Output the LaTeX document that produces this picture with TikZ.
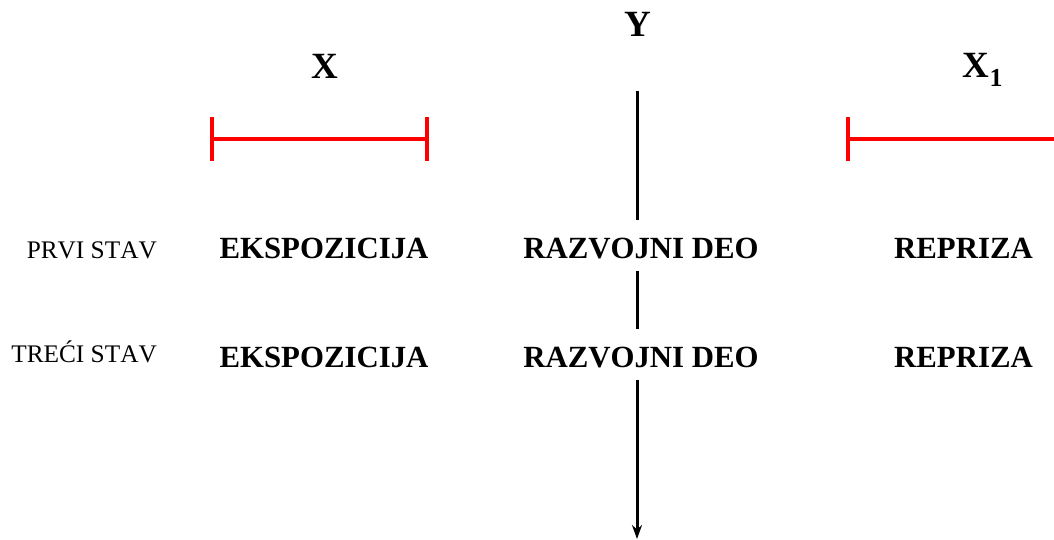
\documentclass[tikz,border=0pt]{standalone}
\usepackage{fontspec}
\setmainfont[Kerning=Off]{Liberation Serif}
\usetikzlibrary{arrows.meta}
\begin{document}
\begin{tikzpicture}[x=1pt,y=-1pt,
  head/.style={font=\fontsize{37}{40}\selectfont\bfseries, anchor=base, inner sep=0pt},
  part/.style={font=\fontsize{30.8}{34}\selectfont\bfseries, anchor=base, inner sep=0pt},
  mov/.style={font=\fontsize{25.3}{28}\selectfont, anchor=base east, inner sep=0pt},
  gap/.style={part, text height=25pt, text depth=0pt, inner ysep=13pt, inner xsep=0pt},
  bar/.style={draw=red, line width=3.2pt},
  axis/.style={draw=black, line width=3pt}]
\useasboundingbox (0,0) rectangle (1054,540);
% headings
\node[head] (Y) at (638,37) {Y};
\node[head] (X) at (325,79) {X};
\node[head] (X1) at (983,78) {X$_{\mathbf{1}}$};
% red bars
\coordinate (a1) at (212,139);
\coordinate (a2) at (427,139);
\coordinate (b1) at (848,139);
\coordinate (b2) at (1054,139);
\draw[bar] (a1) -- (a2);
\draw[bar] ([yshift=-22pt]a1) -- ([yshift=22pt]a1);
\draw[bar] ([yshift=-22pt]a2) -- ([yshift=22pt]a2);
\draw[bar] (b1) -- (b2);
\draw[bar] ([yshift=-22pt]b1) -- ([yshift=22pt]b1);
% rows
\node[mov] (p1) at (157,258) {PRVI STAV};
\node[mov] (p2) at (157,362) {TREĆI STAV};
\node[part] (e1) at (324,258) {EKSPOZICIJA};
\node[part] (e2) at (324,367) {EKSPOZICIJA};
\node[gap] (r1) at (641,258) {RAZVOJNI DEO};
\node[gap] (r2) at (641,367) {RAZVOJNI DEO};
\node[part] (q1) at (963.5,258) {REPRIZA};
\node[part] (q2) at (963.5,367) {REPRIZA};
% vertical axis
\coordinate (top) at (637,91);
\coordinate (bot) at (637,539);
\draw[axis] (top) -- (r1.north -| top);
\draw[axis] (r1.south -| top) -- (r2.north -| top);
\draw[axis, -{Stealth[length=14pt,width=10pt]}] (r2.south -| top) -- (bot);
\end{tikzpicture}
\end{document}
